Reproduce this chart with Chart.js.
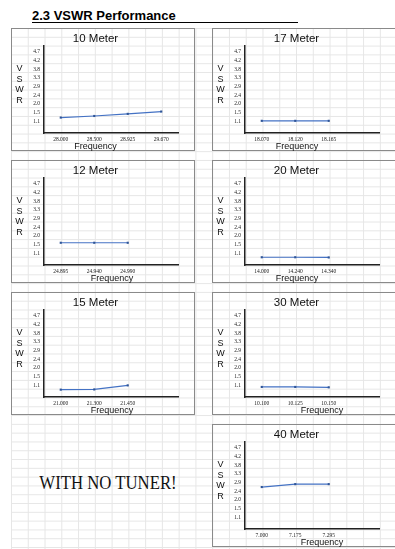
<!DOCTYPE html>
<html><head><meta charset="utf-8">
<script src="https://cdn.jsdelivr.net/npm/chart.js@4/dist/chart.umd.min.js"></script>
<style>
html,body{margin:0;padding:0;background:#fff;width:395px;height:549px;overflow:hidden;position:relative;font-family:"Liberation Sans",Arial,sans-serif}
#grid{position:absolute;left:11px;top:28px;width:384px;height:521px;
 background-image:linear-gradient(to right,#e6e6e6 1px,transparent 1px),linear-gradient(to bottom,#e6e6e6 1px,transparent 1px);
 background-size:16.77px 8.8px;}
#head{position:absolute;left:32px;top:9px;width:266px;height:13px;line-height:13px;font-size:13px;font-weight:bold;color:#000;border-bottom:1.5px solid #000;white-space:nowrap}
.box{position:absolute;width:184px;height:123px;border:1px solid #8a8a8a;box-sizing:border-box}
.box canvas{position:absolute;left:-1px;top:-1px}
#note{position:absolute;left:20px;top:472px;width:176px;text-align:center;font-family:"Liberation Serif","Times New Roman",serif;font-size:18px;color:#111;transform:scaleX(0.93);white-space:nowrap;line-height:22px}
</style></head>
<body>
<div id="grid"></div>
<div id="head">2.3 VSWR Performance</div>
<div class="box" style="left:11px;top:28px"><canvas id="c10" width="184" height="123"></canvas></div>
<div class="box" style="left:212px;top:28px"><canvas id="c17" width="184" height="123"></canvas></div>
<div class="box" style="left:11px;top:160px"><canvas id="c12" width="184" height="123"></canvas></div>
<div class="box" style="left:212px;top:160px"><canvas id="c20" width="184" height="123"></canvas></div>
<div class="box" style="left:11px;top:292px"><canvas id="c15" width="184" height="123"></canvas></div>
<div class="box" style="left:212px;top:292px"><canvas id="c30" width="184" height="123"></canvas></div>
<div class="box" style="left:212px;top:424px"><canvas id="c40" width="184" height="123"></canvas></div>
<div id="note">WITH NO TUNER!</div>
<script>
// ---- data ----
const yTickValues = [1.05, 1.5, 1.95, 2.4, 2.85, 3.3, 3.75, 4.2, 4.65];
const yTickLabels = ['1.1', '1.5', '2.0', '2.4', '2.9', '3.3', '3.8', '4.2', '4.7'];

const m10Freq = ['28.000', '28.500', '28.925', '29.670'];
const m10Vswr = [1.25, 1.33, 1.44, 1.56];

const m17Freq = ['18.070', '18.120', '18.165', ''];
const m17Vswr = [1.08, 1.08, 1.08];

const m12Freq = ['24.895', '24.940', '24.990', ''];
const m12Vswr = [1.6, 1.6, 1.6];

const m20Freq = ['14.000', '14.240', '14.340', ''];
const m20Vswr = [0.85, 0.85, 0.84];

const m15Freq = ['21.000', '21.300', '21.450', ''];
const m15Vswr = [0.83, 0.84, 1.05];

const m30Freq = ['10.100', '10.125', '10.150', ''];
const m30Vswr = [0.97, 0.97, 0.95];

const m40Freq = ['7.000', '7.175', '7.295', ''];
const m40Vswr = [2.62, 2.77, 2.77];

// ---- drawing ----
const boxText = {
  id: 'boxText',
  afterDraw(chart, args, opts) {
    const c = chart.ctx;
    c.save();
    c.fillStyle = '#111';
    c.textAlign = 'center';
    c.textBaseline = 'middle';
    c.font = '11.5px "Liberation Sans", Arial, sans-serif';
    c.fillText(opts.title, 84.5, 10.5);
    c.font = '9px "Liberation Sans", Arial, sans-serif';
    ['V', 'S', 'W', 'R'].forEach((l, i) => c.fillText(l, 8.5, 41 + i * 10.5));
    c.fillText('Frequency', opts.freqX, 118.5);
    c.restore();
  }
};

function makeChart(id, title, freqs, vswr, freqX) {
  new Chart(document.getElementById(id), {
    type: 'line',
    data: {
      labels: freqs,
      datasets: [{
        data: vswr,
        borderColor: '#4472C4',
        borderWidth: 1.2,
        pointRadius: 1.5,
        pointStyle: 'rect',
        pointBackgroundColor: '#2f5597',
        pointBorderColor: '#2f5597',
        pointBorderWidth: 0,
        tension: 0
      }]
    },
    options: {
      responsive: false,
      animation: false,
      devicePixelRatio: 1,
      layout: { padding: { left: 0, right: 17, top: 18, bottom: 0 } },
      plugins: { legend: { display: false }, tooltip: { enabled: false }, boxText: { title, freqX } },
      scales: {
        x: {
          type: 'category',
          offset: true,
          grid: { display: false, drawTicks: false },
          border: { display: true, color: '#222', width: 1.5 },
          ticks: { font: { family: '"Liberation Serif", serif', size: 5.5 }, color: '#222', padding: 3, maxRotation: 0, autoSkip: false },
          afterFit(s) { s.height = 18; }
        },
        y: {
          type: 'linear',
          min: 0.45,
          max: 4.95,
          afterBuildTicks(s) { s.ticks = yTickValues.map(v => ({ value: v })); },
          grid: { display: false, drawTicks: false },
          border: { display: true, color: '#222', width: 1.5 },
          ticks: { font: { family: '"Liberation Serif", serif', size: 5.5 }, color: '#222', padding: 4, callback: (v, i) => yTickLabels[i] },
          afterFit(s) { s.width = 33; }
        }
      }
    },
    plugins: [boxText]
  });
}

makeChart('c10', '10 Meter', m10Freq, m10Vswr, 84.5);
makeChart('c17', '17 Meter', m17Freq, m17Vswr, 85);
makeChart('c12', '12 Meter', m12Freq, m12Vswr, 101);
makeChart('c20', '20 Meter', m20Freq, m20Vswr, 85);
makeChart('c15', '15 Meter', m15Freq, m15Vswr, 101);
makeChart('c30', '30 Meter', m30Freq, m30Vswr, 110);
makeChart('c40', '40 Meter', m40Freq, m40Vswr, 110);
</script>
</body></html>
